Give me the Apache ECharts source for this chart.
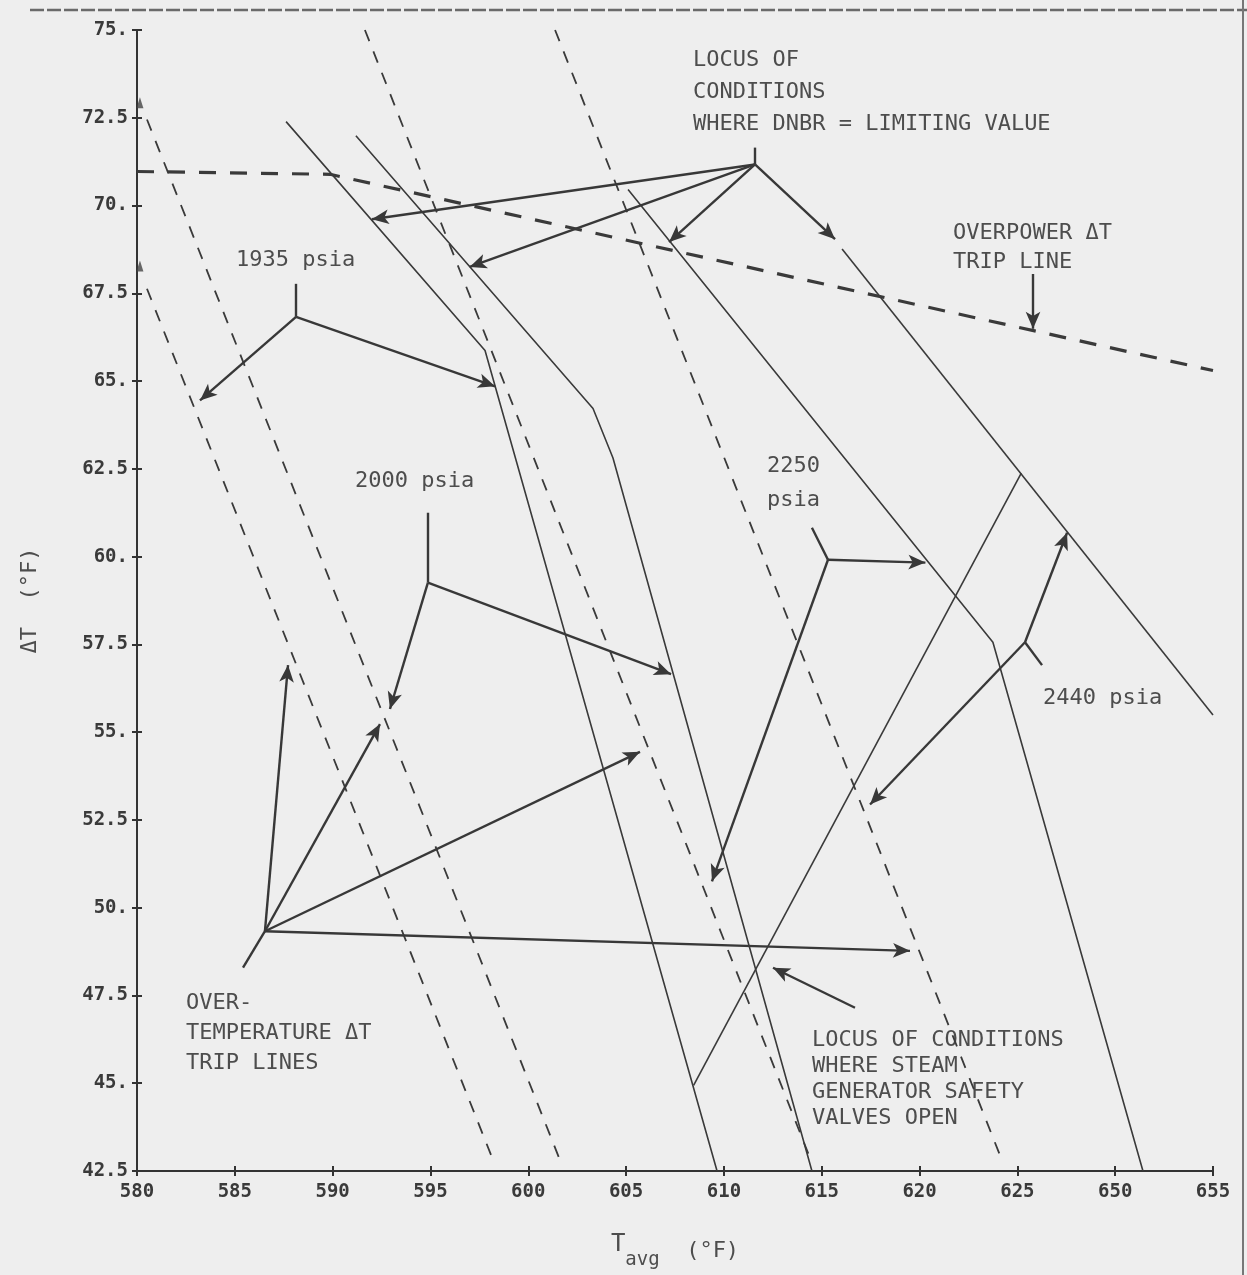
<!DOCTYPE html>
<html>
<head>
<meta charset="utf-8">
<script src="https://cdn.jsdelivr.net/npm/echarts@6/dist/echarts.min.js"></script>
<style>
  html, body { margin: 0; padding: 0; background: #eeeeee; }
  #chart { width: 1247px; height: 1275px; }
</style>
</head>
<body>
<div id="chart"></div>
<script>
// Tick labels exactly as printed along each axis
const xTickLabels = ['580','585','590','595','600','605','610','615','620','625','650','655'];
const yTickLabels = ['42.5','45.','47.5','50.','52.5','55.','57.5','60.','62.5','65.','67.5','70.','72.5','75.'];

// Loci where DNBR = limiting value, one per pressure  [Tavg, ΔT]
const dnbr1935 = [[587.62, 72.39], [597.79, 65.87], [609.65, 42.5]];
const dnbr2000 = [[591.19, 71.99], [603.31, 64.22], [604.33, 62.81], [614.50, 42.5]];
const dnbr2250 = [[605.10, 70.46], [623.75, 57.56], [631.42, 42.5]];
const dnbr2440 = [[616.04, 68.76], [635.00, 55.49]];

// Locus where the steam generator safety valves open
const sgValveLocus = [[608.45, 44.94], [625.20, 62.38]];

// Overtemperature ΔT trip lines
const otTrip1935 = [[580.51, 67.63], [598.20, 42.81]];
const otTrip2000 = [[580.51, 72.45], [601.62, 42.81]];
const otTrip2250 = [[591.65, 75.00], [614.50, 42.73]];
const otTrip2440 = [[601.37, 75.00], [624.11, 42.95]];

// Overpower ΔT trip line
const opTrip = [[580.00, 70.97], [589.87, 70.89], [635.00, 65.30]];

// Small intercept markers on the ΔT axis
const axisMarkers = [[580.15, 72.93], [580.15, 68.28]];

// Callout leaders: hub point, short stub end, arrow tips
const dnbrHub = [611.59, 71.17];
const dnbrStub = [611.59, 71.65];
const dnbrTips = [[592.0, 69.61], [597.0, 68.25], [607.2, 68.96], [615.68, 69.04]];

const hub1935 = [588.13, 66.83];
const stub1935 = [588.13, 67.77];
const tips1935 = [[583.22, 64.45], [598.30, 64.85]];

const hub2000 = [594.87, 59.26];
const stub2000 = [594.87, 61.25];
const tips2000 = [[607.30, 56.65], [592.93, 55.66]];

const hub2250 = [615.32, 59.91];
const stub2250 = [614.50, 60.82];
const tips2250 = [[620.30, 59.83], [609.39, 50.75]];

const hub2440 = [625.39, 57.56];
const stub2440 = [626.26, 56.91];
const tips2440 = [[627.54, 60.68], [617.47, 52.94]];

const hubOT = [586.54, 49.33];
const stubOT = [585.42, 48.29];
const tipsOT = [[587.72, 56.91], [592.42, 55.23], [605.71, 54.44], [619.51, 48.77]];

const opArrow = [[625.80, 68.05], [625.80, 66.49]];
const sgArrow = [[616.70, 47.15], [612.51, 48.29]];

const INK = '#3a3a3a';
const TXT = '#4d4d4d';
const MONO = '"DejaVu Sans Mono", "Liberation Mono", monospace';

function solid(name, data) {
  return {
    name, type: 'line', data, symbol: 'none', silent: true,
    lineStyle: { color: INK, width: 1.6, type: 'solid' }
  };
}
function dashed(name, data, dash, width) {
  return {
    name, type: 'line', data, symbol: 'none', silent: true,
    lineStyle: { color: INK, width, type: dash }
  };
}
// leader segments: stub (plain) + arrows from hub to each tip
function leaderLines(hub, stub, tips) {
  const out = [];
  if (stub) out.push([{ coord: stub, symbol: 'none' }, { coord: hub, symbol: 'none' }]);
  tips.forEach(t => out.push([{ coord: hub, symbol: 'none' }, { coord: t, symbol: 'arrow' }]));
  return out;
}

const calloutData = [].concat(
  leaderLines(dnbrHub, dnbrStub, dnbrTips),
  leaderLines(hub1935, stub1935, tips1935),
  leaderLines(hub2000, stub2000, tips2000),
  leaderLines(hub2250, stub2250, tips2250),
  leaderLines(hub2440, stub2440, tips2440),
  leaderLines(hubOT, stubOT, tipsOT),
  leaderLines(opArrow[0], null, [opArrow[1]]),
  leaderLines(sgArrow[0], null, [sgArrow[1]])
);

const chart = echarts.init(document.getElementById('chart'), null, { renderer: 'canvas' });

const axisFont = { fontFamily: MONO, fontSize: 19, color: '#3a3a3a', fontWeight: 'bold' };

const option = {
  backgroundColor: '#eeeeee',
  animation: false,
  grid: { left: 137, right: 34, top: 30, bottom: 95, containLabel: false },
  xAxis: [{
    type: 'value', min: 580, max: 635, interval: 5,
    axisLine: { show: true, lineStyle: { color: '#333', width: 2 } },
    axisTick: { show: true, length: 5, lineStyle: { color: '#333', width: 2 } },
    splitLine: { show: false },
    axisLabel: {
      ...axisFont, margin: 12,
      formatter: v => xTickLabels[Math.round((v - 580) / 5)]
    },
    name: '{t|T}{s|avg}{u|  (°F)}',
    nameLocation: 'middle', nameGap: 62,
    nameTextStyle: {
      rich: {
        t: { fontFamily: MONO, fontSize: 24, color: TXT, verticalAlign: 'top' },
        s: { fontFamily: MONO, fontSize: 19, color: TXT, verticalAlign: 'bottom', padding: [18, 0, 0, 0] },
        u: { fontFamily: MONO, fontSize: 22, color: TXT }
      }
    }
  }, {
    type: 'value', min: 580, max: 635, interval: 5, position: 'bottom',
    axisLine: { show: false },
    axisTick: { show: true, inside: true, length: 5, lineStyle: { color: '#333', width: 2 } },
    axisLabel: { show: false }, splitLine: { show: false }
  }],
  yAxis: [{
    type: 'value', min: 42.5, max: 75, interval: 2.5,
    axisLine: { show: true, lineStyle: { color: '#333', width: 2 } },
    axisTick: { show: true, length: 5, lineStyle: { color: '#333', width: 2 } },
    splitLine: { show: false },
    axisLabel: {
      ...axisFont, margin: 9,
      formatter: v => yTickLabels[Math.round((v - 42.5) / 2.5)]
    },
    name: 'ΔT  (°F)',
    nameLocation: 'middle', nameGap: 96, nameRotate: 90,
    nameTextStyle: { fontFamily: MONO, fontSize: 22, color: TXT }
  }, {
    type: 'value', min: 42.5, max: 75, interval: 2.5, position: 'left',
    axisLine: { show: false },
    axisTick: { show: true, inside: true, length: 5, lineStyle: { color: '#333', width: 2 } },
    axisLabel: { show: false }, splitLine: { show: false }
  }],
  series: [
    solid('DNBR 1935 psia', dnbr1935),
    solid('DNBR 2000 psia', dnbr2000),
    solid('DNBR 2250 psia', dnbr2250),
    solid('DNBR 2440 psia', dnbr2440),
    solid('SG safety valves open', sgValveLocus),
    dashed('OT trip 1935 psia', otTrip1935, [12, 11], 1.8),
    dashed('OT trip 2000 psia', otTrip2000, [12, 11], 1.8),
    dashed('OT trip 2250 psia', otTrip2250, [12, 11], 1.8),
    dashed('OT trip 2440 psia', otTrip2440, [12, 11], 1.8),
    dashed('Overpower trip', opTrip, [17, 14], 3.2),
    {
      name: 'axis markers', type: 'scatter', data: axisMarkers, silent: true,
      symbol: 'triangle', symbolSize: [7, 11], itemStyle: { color: '#444' }
    },
    {
      name: 'callouts', type: 'line', data: [], silent: true,
      markLine: {
        silent: true, animation: false,
        symbol: ['none', 'arrow'], symbolSize: [11, 17],
        label: { show: false },
        lineStyle: { color: '#383838', width: 2.4, type: 'solid' },
        emphasis: { disabled: true },
        data: calloutData
      }
    }
  ],
  graphic: [
    // scanned sheet border
    { type: 'line', silent: true, shape: { x1: 30, y1: 10, x2: 1247, y2: 10 }, style: { stroke: '#6a6a6a', lineWidth: 2.5, lineDash: [14, 3] } },
    { type: 'line', silent: true, shape: { x1: 1243, y1: 0, x2: 1243, y2: 1275 }, style: { stroke: '#777', lineWidth: 2 } },
    // annotations
    { type: 'text', silent: true, x: 693, y: 44, style: { text: 'LOCUS OF\nCONDITIONS\nWHERE DNBR = LIMITING VALUE', font: '22px ' + MONO, fill: TXT, lineHeight: 32 } },
    { type: 'text', silent: true, x: 236, y: 249, style: { text: '1935 psia', font: '22px ' + MONO, fill: TXT } },
    { type: 'text', silent: true, x: 355, y: 470, style: { text: '2000 psia', font: '22px ' + MONO, fill: TXT } },
    { type: 'text', silent: true, x: 767, y: 449, style: { text: '2250\npsia', font: '22px ' + MONO, fill: TXT, lineHeight: 34 } },
    { type: 'text', silent: true, x: 1043, y: 687, style: { text: '2440 psia', font: '22px ' + MONO, fill: TXT } },
    { type: 'text', silent: true, x: 953, y: 219, style: { text: 'OVERPOWER ΔT\nTRIP LINE', font: '22px ' + MONO, fill: TXT, lineHeight: 29 } },
    { type: 'text', silent: true, x: 186, y: 988, style: { text: 'OVER-\nTEMPERATURE ΔT\nTRIP LINES', font: '22px ' + MONO, fill: TXT, lineHeight: 30 } },
    { type: 'text', silent: true, x: 812, y: 1027, style: { text: 'LOCUS OF CONDITIONS\nWHERE STEAM\nGENERATOR SAFETY\nVALVES OPEN', font: '22px ' + MONO, fill: TXT, lineHeight: 26 } }
  ]
};

chart.setOption(option);
</script>
</body>
</html>
